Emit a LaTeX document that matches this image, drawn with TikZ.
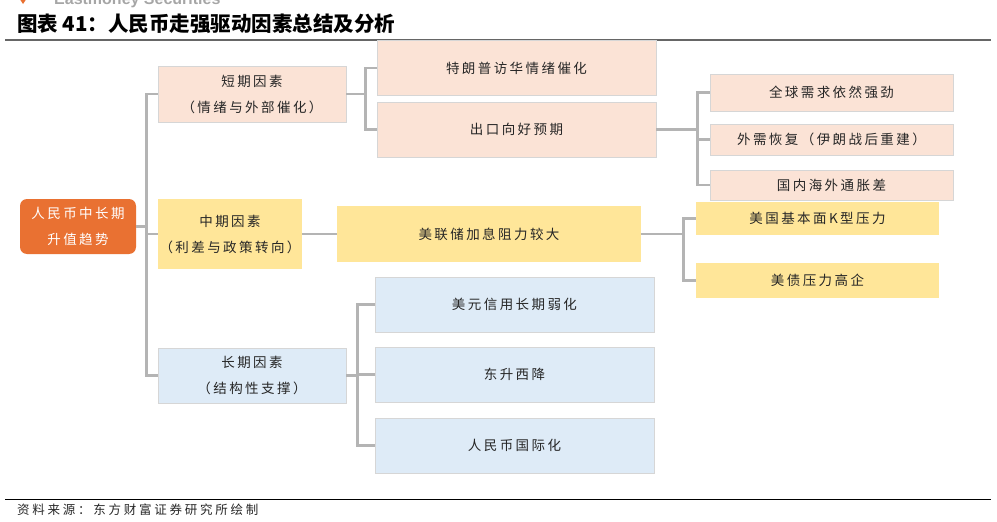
\documentclass[tikz,border=0pt]{standalone}
\usepackage{fontspec}
\setmainfont{Noto Sans CJK SC}
\newfontfamily\boxfont[LetterSpace=18]{Noto Sans CJK SC}
\newfontfamily\srcfont[LetterSpace=22]{Noto Sans CJK SC}
\newfontfamily\latinb{Liberation Sans}
\definecolor{peach}{HTML}{FBE3D6}
\definecolor{yell}{HTML}{FFE699}
\definecolor{lblue}{HTML}{DEEBF7}
\definecolor{orng}{HTML}{E97132}
\definecolor{conngray}{HTML}{B4B4B4}
\definecolor{txt}{HTML}{262626}
\definecolor{edge}{HTML}{D6D6D6}
\begin{document}
\begin{tikzpicture}[x=1pt,y=-1pt,
  box/.style={draw=edge, line width=0.6pt, inner sep=0pt, align=center,
    font=\boxfont\fontsize{13.5}{26}\selectfont, text=txt},
  conn/.style={draw=conngray, line width=2.6pt}]
\useasboundingbox (0,0) rectangle (997,522);
\begin{scope}
\clip (0,0) rectangle (997,522);
\fill[orng] (19,-2) -- (27,-2) -- (23,4) -- cycle;
\node[anchor=base west, text=gray!70, font=\latinb\bfseries\fontsize{16}{16}\selectfont, inner sep=0pt] (logo) at (54,5) {Eastmoney Securities};
\end{scope}
\node[anchor=west, inner sep=0pt, font=\fontsize{20.5}{22}\selectfont\bfseries, text=black] (title) at (17,24) {图表 41：人民币走强驱动因素总结及分析};
\draw[line width=1.8pt, draw=gray!80!black] (5,40) coordinate (tl) -- (991,40) coordinate (tr);
\draw[line width=1pt, draw=black] (5,499) coordinate (fl) -- (991,499) coordinate (fr);
\node[anchor=west, inner sep=0pt, font=\srcfont\fontsize{12.5}{14}\selectfont, text=txt] (src) at (17,510) {资料来源：东方财富证券研究所绘制};

% level 2/3 boxes
\node[box, fill=peach, minimum width=279, minimum height=55] (s2a) at (516.5,68) {特朗普访华情绪催化};
\node[box, fill=peach, minimum width=279, minimum height=55] (s2b) at (516.5,129.5) {出口向好预期};
\node[box, fill=peach, minimum width=243, minimum height=37] (s3a) at (831.5,92.5) {全球需求依然强劲};
\node[box, fill=peach, minimum width=243, minimum height=31] (s3b) at (831.5,139.5) {外需恢复（伊朗战后重建）};
\node[box, fill=peach, minimum width=243, minimum height=30] (s3c) at (831.5,185) {国内海外通胀差};
\node[box, draw=none, fill=yell, minimum width=304, minimum height=56] (m2) at (489,234) {美联储加息阻力较大};
\node[box, draw=none, fill=yell, minimum width=243, minimum height=33] (m3a) at (817.5,218.5) {美国基本面K型压力};
\node[box, draw=none, fill=yell, minimum width=243, minimum height=35] (m3b) at (817.5,280.5) {美债压力高企};
\node[box, fill=lblue, minimum width=279, minimum height=55] (l2a) at (514.5,304.5) {美元信用长期弱化};
\node[box, fill=lblue, minimum width=279, minimum height=55] (l2b) at (514.5,374.5) {东升西降};
\node[box, fill=lblue, minimum width=279, minimum height=55] (l2c) at (514.5,445.5) {人民币国际化};

% level 1 boxes
\node[box, fill=peach, minimum width=188, minimum height=56] (s1) at (252,94) {短期因素\\（情绪与外部催化）};
\node[box, draw=none, fill=yell, minimum width=144, minimum height=70] (m1) at (230,234) {中期因素\\（利差与政策转向）};
\node[box, fill=lblue, minimum width=188, minimum height=55] (l1) at (252,375.5) {长期因素\\（结构性支撑）};

% root
\node[box, draw=none, fill=orng, rounded corners=7pt, text=white, minimum width=116, minimum height=55] (root) at (78,226.5) {人民币中长期\\升值趋势};

% connectors
\draw[conn] (root.east) -- ++(10,0) coordinate (rj);
\draw[conn] (rj) |- (s1.west);
\draw[conn] (rj) |- (m1.west);
\draw[conn] (rj) |- (l1.west);

\draw[conn] (s1.east) -- ++(19,0) coordinate (sj);
\draw[conn] (sj) |- (s2a.west);
\draw[conn] (sj) |- (s2b.west);

\draw[conn] (s2b.east) -- ++(41,0) coordinate (sj2);
\draw[conn] (sj2) |- (s3a.west);
\draw[conn] (sj2) |- (s3b.west);
\draw[conn] (sj2) |- (s3c.west);

\draw[conn] (m1.east) -- (m2.west);
\draw[conn] (m2.east) -- ++(42,0) coordinate (mj);
\draw[conn] (mj) |- (m3a.west);
\draw[conn] (mj) |- (m3b.west);

\draw[conn] (l1.east) -- ++(11,0) coordinate (lj);
\draw[conn] (lj) |- (l2a.west);
\draw[conn] (lj) |- (l2b.west);
\draw[conn] (lj) |- (l2c.west);
\end{tikzpicture}
\end{document}
